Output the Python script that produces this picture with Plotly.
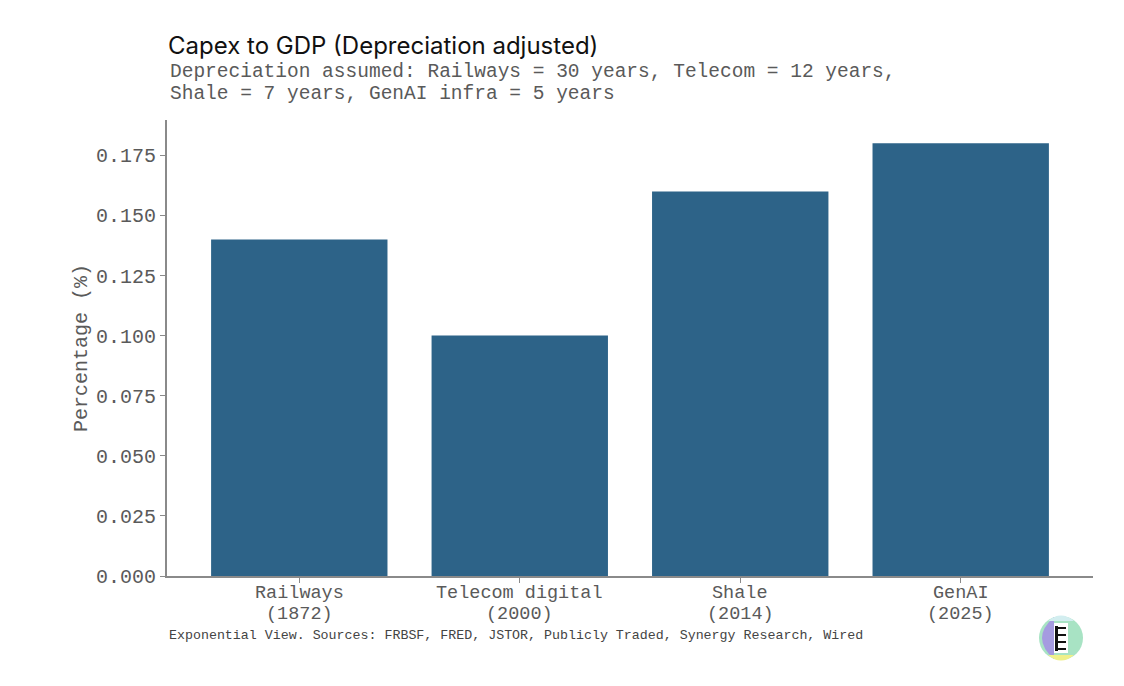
import plotly.graph_objects as go

categories = ['Railways', 'Telecom digital', 'Shale', 'GenAI']
years = ['(1872)', '(2000)', '(2014)', '(2025)']
capex_share = [0.14, 0.10, 0.16, 0.18]
y_ticks = [0.000, 0.025, 0.050, 0.075, 0.100, 0.125, 0.150, 0.175]

mono = 'Liberation Mono, Courier New, monospace'
bar_color = '#2d6388'
axis_grey = '#8a8a8a'
text_grey = '#5a5a5a'

# plot area in page pixels: x 167..1093, y 120..576
def px(x):
    return (x - 167) / 926

def py(y):
    return (576 - y) / 456

fig = go.Figure()
fig.add_trace(go.Bar(x=list(range(len(categories))), y=capex_share,
                     width=0.8,
                     marker=dict(color=bar_color, line=dict(width=0)),
                     hoverinfo='y'))

fig.update_layout(
    width=1124, height=686,
    margin=dict(l=159, r=39, t=112, b=118),
    paper_bgcolor='white', plot_bgcolor='white',
    showlegend=False,
    xaxis=dict(range=[-0.6, 3.6], tickmode='array',
               tickvals=list(range(len(categories))), showticklabels=False,
               showline=True, linecolor=axis_grey, linewidth=2,
               ticks='outside', ticklen=5, tickcolor=axis_grey,
               showgrid=False, zeroline=False),
    yaxis=dict(range=[0, 0.1897], tickmode='array', tickvals=y_ticks,
               tickformat='.3f',
               showline=True, linecolor=axis_grey, linewidth=2,
               ticks='outside', ticklen=5, tickcolor=axis_grey,
               showgrid=False, zeroline=False,
               tickfont=dict(family=mono, size=20, color=text_grey),
               title=dict(text='Percentage (%)', standoff=3,
                          font=dict(family=mono, size=20, color=text_grey))),
)

# two-line category labels under the bars
for i, (cat, yr) in enumerate(zip(categories, years)):
    fig.add_annotation(text=cat, x=i, xref='x', y=py(593), yref='paper',
                       showarrow=False, xanchor='center', yanchor='middle',
                       font=dict(family=mono, size=18.5, color=text_grey))
    fig.add_annotation(text=yr, x=i, xref='x', y=py(614), yref='paper',
                       showarrow=False, xanchor='center', yanchor='middle',
                       font=dict(family=mono, size=18.5, color=text_grey))

# title, subtitle and source note
fig.add_annotation(text='Capex to GDP (Depreciation adjusted)', xref='paper', yref='paper',
                   x=px(166), y=py(45), xanchor='left', yanchor='middle', showarrow=False,
                   font=dict(family='Inter, Lato, sans-serif', size=24, color='#111111'))
fig.add_annotation(text='Depreciation assumed: Railways = 30 years, Telecom = 12 years,',
                   xref='paper', yref='paper', x=px(168), y=py(72),
                   xanchor='left', yanchor='middle', showarrow=False,
                   font=dict(family=mono, size=19.5, color=text_grey))
fig.add_annotation(text='Shale = 7 years, GenAI infra = 5 years',
                   xref='paper', yref='paper', x=px(168), y=py(94),
                   xanchor='left', yanchor='middle', showarrow=False,
                   font=dict(family=mono, size=19.5, color=text_grey))
fig.add_annotation(text='Exponential View. Sources: FRBSF, FRED, JSTOR, Publicly Traded, Synergy Research, Wired',
                   xref='paper', yref='paper', x=px(167), y=py(635),
                   xanchor='left', yanchor='middle', showarrow=False,
                   font=dict(family=mono, size=13.3, color='#444444'))

# small round logo, bottom right
cx, cy, r = 1061, 638, 22
fig.add_shape(type='circle', xref='paper', yref='paper',
              x0=px(cx - r), x1=px(cx + r), y0=py(cy + r), y1=py(cy - r),
              fillcolor='#a8e3c4', line=dict(width=0))
fig.add_shape(type='path', xref='paper', yref='paper',
              path=f'M {px(cx - 7)} {py(cy - r + 1)} Q {px(cx - r - 9)} {py(cy)} {px(cx - 7)} {py(cy + r - 1)} Z',
              fillcolor='#a59be0', line=dict(width=0))
fig.add_shape(type='path', xref='paper', yref='paper',
              path=f'M {px(cx - 13)} {py(cy + 17)} Q {px(cx)} {py(cy + r + 6)} {px(cx + 13)} {py(cy + 17)} Z',
              fillcolor='#f0f08a', line=dict(width=0))
fig.add_shape(type='path', xref='paper', yref='paper',
              path=f'M {px(cx - 13)} {py(cy - 17)} Q {px(cx)} {py(cy - r - 6)} {px(cx + 13)} {py(cy - 17)} Z',
              fillcolor='#d3eef0', line=dict(width=0))
fig.add_shape(type='rect', xref='paper', yref='paper',
              x0=px(cx - 7), x1=px(cx + 7), y0=py(cy + 15), y1=py(cy - 15),
              fillcolor='white', line=dict(width=0))
for dy in (-11, -4, 3, 10):
    fig.add_shape(type='rect', xref='paper', yref='paper',
                  x0=px(cx - 6), x1=px(cx + 5), y0=py(cy + dy + 2), y1=py(cy + dy),
                  fillcolor='#111111', line=dict(width=0))
fig.add_shape(type='rect', xref='paper', yref='paper',
              x0=px(cx - 6), x1=px(cx - 3), y0=py(cy + 13), y1=py(cy - 12),
              fillcolor='#111111', line=dict(width=0))

fig.write_html('out.html')
